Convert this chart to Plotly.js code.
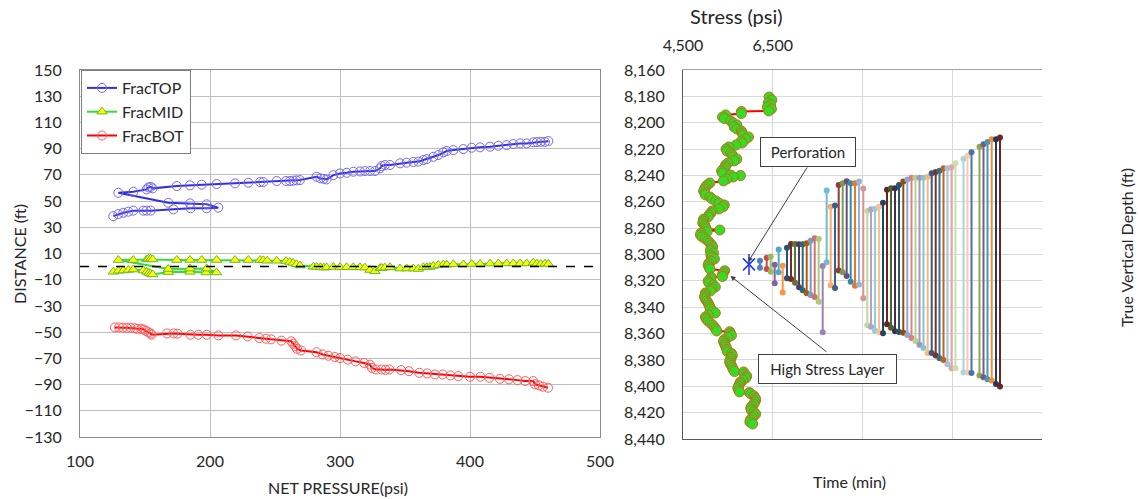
<!DOCTYPE html>
<html>
<head>
<meta charset="utf-8">
<script src="https://cdn.plot.ly/plotly-3.0.1.min.js"></script>
<style>
  html, body { margin: 0; padding: 0; background: #ffffff; }
  #chart { width: 1139px; height: 499px; }
</style>
</head>
<body>
<div id="chart"></div>
<script>
// ---------- Left panel: fracture tip distance vs net pressure ----------
const topPressure = [125.6, 129.5, 133.3, 137.2, 141.0, 148.7, 151.3, 154.4, 171.8, 185.1, 197.4, 206.4,
  197.4, 184.6, 167.9,
  129.5, 141.0, 151.3, 152.6, 154.4, 155.9, 174.4, 184.6, 193.6, 205.1, 219.2, 229.5, 238.5, 241.0, 251.3,
  258.5, 261.5, 264.0, 266.5, 269.2, 282.0, 285.0, 287.5, 289.7, 294.9, 300.0, 305.1, 310.3, 315.4, 319.2,
  323.1, 326.9, 330.8, 332.0, 334.6, 338.5, 346.2, 351.3, 356.4, 360.2, 364.1, 366.7, 371.8, 375.6, 379.5,
  382.1, 387.2, 394.9, 401.3, 407.7, 415.4, 421.8, 428.2, 433.3, 438.5, 443.6, 448.7, 451.5, 454.5, 457.7, 460.3];
const topDistance = [38.5, 40.1, 41.1, 41.9, 42.7, 42.7, 42.7, 42.7, 43.7, 44.5, 44.5, 45.0,
  47.5, 48.2, 48.7,
  56.3, 57.1, 58.9, 60.4, 60.9, 59.7, 61.5, 62.0, 62.5, 63.0, 63.5, 64.0, 64.5, 64.5, 65.3,
  65.3, 65.3, 65.6, 65.8, 66.0, 68.5, 67.3, 67.0, 66.5, 69.8, 71.1, 71.6, 72.4, 72.6, 72.9,
  72.9, 72.9, 75.0, 76.7, 77.5, 77.5, 78.8, 79.3, 79.8, 80.1, 81.3, 82.0, 83.8, 85.1, 87.2,
  88.2, 88.9, 89.7, 90.7, 91.0, 91.5, 92.2, 92.7, 93.5, 94.0, 94.0, 94.8, 95.0, 95.2, 95.2, 95.8];

const midPressure = [125.6, 129.5, 133.3, 137.2, 141.0, 148.7, 151.3, 153.0, 154.4, 155.9, 168.0, 184.6, 197.0, 205.0,
  197.4, 184.6, 167.9,
  129.5, 141.0, 151.3, 152.6, 154.4, 155.9, 174.4, 184.6, 193.6, 205.1, 219.2, 229.5, 238.5, 241.0, 244.0, 251.3,
  258.5, 261.5, 264.0, 266.5, 269.2, 279.5, 282.0, 285.0, 287.5, 289.7, 294.9, 300.0, 305.1, 310.3, 315.4,
  319.2, 323.1, 326.9, 330.8, 332.0, 334.6, 338.5, 346.2, 351.3, 356.4, 360.2, 364.1, 366.7, 369.0, 371.8,
  375.6, 379.5, 382.1, 387.2, 394.9, 401.3, 407.7, 415.4, 421.8, 428.2, 433.3, 438.5, 443.6, 448.7, 451.5,
  454.5, 457.7, 460.3];
const midDistance = [-4.0, -3.2, -3.0, -2.6, -2.2, -3.0, -4.0, -4.8, -5.5, -6.0, -4.2, -4.0, -4.5, -4.5,
  -1.5, -1.5, -1.8,
  5.0, 5.0, 5.5, 6.0, 6.0, 5.5, 5.0, 5.0, 5.0, 5.0, 5.0, 5.0, 5.0, 4.8, 4.5, 4.5,
  4.2, 3.5, 2.8, 1.8, 0.8, -0.1, -0.3, -0.5, -0.8, -0.6, -0.3, -0.5, -0.5, -0.5, -0.6,
  -0.8, -2.6, -3.6, -1.2, -1.0, -0.8, -0.5, -1.5, -1.5, -1.5, -1.8, -0.5, -0.5, -0.3, 0.5,
  1.2, 1.6, 1.4, 1.8, 1.6, 1.9, 2.0, 2.3, 2.4, 2.4, 2.4, 2.4, 2.4, 3.0, 2.2,
  2.0, 2.2, 2.0];

const botPressure = [126.9, 130, 133, 136, 139, 142, 144, 147, 149, 150.5, 152.6, 154.4, 155, 167, 172, 175,
  185, 191, 197.5, 206.5, 220, 229, 238, 243, 247, 255, 262.5, 264, 265.5, 267, 270, 282, 286.7, 291, 296,
  300, 306, 312, 318.5, 323, 324.5, 327.5, 332, 335, 338, 347, 353, 361, 367, 373, 379, 385, 391, 400, 408,
  415, 423, 430, 436.5, 442.5, 448.6, 450, 453, 456, 460];
const botDistance = [-46.4, -46.4, -46.6, -46.8, -46.8, -47, -47.5, -47.5, -48, -49, -50, -51, -52, -51, -51, -51.2,
  -52, -52, -52, -52.5, -52.5, -53.3, -54.5, -55, -55.5, -56.5, -57, -58.8, -60.8, -62.8, -64, -65.3, -67, -68, -69,
  -69.8, -71, -72.3, -73.5, -74.8, -77.3, -78.5, -78.5, -78.8, -78.5, -79, -79.8, -81, -81.5, -82.3, -82.3, -83, -83.5, -84, -84,
  -84.8, -85.6, -86, -86.6, -87.3, -87.3, -89.8, -90.6, -91.6, -92.4];

const pressureTicks = [100, 200, 300, 400, 500];

// ---------- Right panel: stress profile and fracture height growth ----------
const profileDepth = [8180.5, 8182.8, 8185.0, 8186.6, 8188.1, 8189.6, 8191.1, 8191.5, 8193.0, 8194.1,
  8195.7, 8196.8, 8198.7, 8200.2, 8201.7, 8203.2, 8204.8, 8206.3, 8207.8, 8209.3,
  8210.8, 8212.4, 8213.9, 8215.4, 8216.9, 8218.4, 8219.9, 8221.5, 8223.0, 8224.5,
  8226.0, 8227.5, 8229.0, 8230.6, 8232.1, 8233.6, 8235.1, 8236.6, 8238.1, 8239.7,
  8240.1, 8241.2, 8242.7, 8244.2, 8245.7, 8247.3, 8248.8, 8250.3, 8251.8, 8253.3,
  8254.8, 8256.4, 8257.9, 8259.4, 8260.9, 8262.4, 8263.9, 8265.5, 8267.0, 8268.5,
  8270.0, 8271.5, 8273.1, 8274.6, 8276.1, 8277.6, 8279.1, 8280.6, 8281.4, 8282.5,
  8283.7, 8285.2, 8286.7, 8288.2, 8289.7, 8291.3, 8292.8, 8294.3, 8295.8, 8297.3,
  8298.8, 8300.4, 8301.9, 8303.4, 8304.9, 8306.4, 8308.0, 8309.5, 8311.0, 8312.3,
  8313.6, 8315.2, 8316.7, 8317.1, 8318.6, 8320.1, 8321.6, 8323.1, 8324.7, 8326.2,
  8327.7, 8329.2, 8330.7, 8332.2, 8333.8, 8335.3, 8336.8, 8338.3, 8339.8, 8341.3,
  8342.9, 8344.4, 8345.9, 8347.4, 8348.9, 8350.4, 8352.0, 8353.5, 8355.0, 8356.5,
  8358.0, 8358.6, 8359.9, 8361.4, 8362.9, 8364.5, 8366.0, 8367.5, 8369.0, 8370.5,
  8372.0, 8373.6, 8375.1, 8376.6, 8378.1, 8379.7, 8381.2, 8382.7, 8384.2, 8385.7,
  8387.3, 8388.8, 8389.1, 8390.7, 8392.2, 8393.7, 8395.2, 8396.7, 8398.2, 8399.8,
  8401.3, 8402.8, 8404.3, 8404.8, 8405.8, 8407.3, 8408.9, 8410.4, 8411.9, 8413.4,
  8414.9, 8416.4, 8418.0, 8419.5, 8421.0, 8422.5, 8424.0, 8425.6, 8427.1, 8428.6];
const profileStress = [6420, 6480, 6400, 6450, 6380, 6470, 6410, 5800, 5800, 5450,
  5380, 5420, 5560, 5620, 5700, 5640, 5700, 5800, 5820, 5840,
  5960, 5900, 5800, 5820, 5680, 5520, 5460, 5480, 5560, 5600,
  5620, 5700, 5640, 5500, 5450, 5440, 5400, 5360, 5380, 5560,
  5780, 5620, 5480, 5400, 5100, 5040, 5000, 4980, 4960, 4990,
  5000, 5100, 5150, 5230, 5300, 5420, 5390, 5300, 5150, 5120,
  5080, 5060, 4960, 4950, 4940, 4980, 5000, 5020, 5320, 5040,
  4900, 4890, 4930, 5000, 5060, 5100, 5140, 5160, 5120, 5110,
  5180, 5120, 5150, 5200, 5130, 5080, 5060, 5080, 5100, 5430,
  5400, 5380, 5380, 5130, 5120, 5060, 5080, 5180, 5220, 5150,
  5110, 5000, 4990, 4980, 5000, 5030, 5060, 5080, 5100, 5110,
  5160, 5220, 5060, 5000, 5020, 5060, 5110, 5160, 5200, 5230,
  5250, 5540, 5560, 5580, 5500, 5420, 5400, 5430, 5440, 5460,
  5480, 5490, 5580, 5600, 5570, 5560, 5540, 5550, 5580, 5600,
  5620, 5650, 5850, 5870, 5920, 5900, 5840, 5780, 5760, 5740,
  5720, 5740, 5760, 5980, 6010, 6080, 6110, 6120, 6100, 6080,
  6040, 6010, 6020, 6080, 6120, 6080, 6040, 6000, 5990, 6050];

const stressTicks = [4500, 6500, 8500, 10500, 12500];
const stressTickText = ['4,500', '6,500', '', '', ''];

// fracture top / bottom at each time step
const stemTime = [77, 83.7, 87.7, 91.7, 95.7, 99.7, 104, 108, 112, 116, 119.7, 123.7, 127.7, 131.7, 135.7,
  139.7, 143.7, 147.7, 152, 155.7, 159.7, 163.7, 167.7, 172, 176, 180.3, 184.3, 188, 192, 196,
  200, 204, 208, 212, 216, 220.3, 224.3, 228.5, 232.5, 236.5, 240.5, 244.7, 248.7, 252.7, 256.5,
  260.5, 264.5, 268.5, 272.5, 280.5, 284.5, 288.5, 296.5, 300.5, 304.5, 308.7, 313, 317];
const stemTop = [8304.7, 8302.4, 8301.6, 8307.7, 8296.3, 8308.5, 8294.8, 8292.0, 8292.0, 8292.2, 8292.2, 8291.5,
  8289.5, 8287.7, 8288.2, 8308.7, 8251.5, 8263.7, 8262.9, 8247.3, 8246.0, 8244.5, 8246.0, 8246.0, 8244.7,
  8250.0, 8267.0, 8265.7, 8265.2, 8263.7, 8260.7, 8250.8, 8249.8, 8249.8, 8247.3, 8244.7, 8243.0, 8241.7,
  8241.7, 8241.7, 8241.7, 8241.0, 8238.4, 8237.4, 8236.4, 8234.6, 8234.6, 8233.8, 8230.8, 8227.5, 8225.0,
  8222.5, 8218.2, 8216.4, 8214.6, 8212.6, 8212.6, 8211.3];
const stemBottom = [8310.0, 8311.0, 8313.0, 8321.9, 8313.5, 8328.9, 8318.0, 8318.6, 8321.4, 8324.9, 8327.2, 8329.4,
  8330.7, 8332.2, 8335.8, 8359.0, 8305.9, 8323.4, 8325.4, 8312.2, 8313.5, 8316.3, 8320.6, 8323.7, 8322.7,
  8333.2, 8353.7, 8354.8, 8357.8, 8359.0, 8359.8, 8353.0, 8355.5, 8358.3, 8358.8, 8359.3, 8361.0, 8363.3,
  8365.6, 8368.4, 8370.9, 8374.7, 8374.7, 8376.7, 8378.8, 8380.0, 8383.3, 8386.3, 8386.3, 8389.6, 8389.6,
  8390.0, 8391.9, 8393.1, 8394.7, 8395.7, 8398.2, 8400.2];

const perforationTime = [66];
const perforationDepth = [8307.5];

// series colours for the time-step stems
const stemColors = ['#4F81BD', '#C0504D', '#9BBB59', '#8064A2', '#4BACC6', '#F79646',
  '#2C4D75', '#772C2A', '#5F7530', '#4D3B62', '#276A7C', '#B65708',
  '#729ACA', '#CD7371', '#AFC97A', '#9983B5', '#6FBDD1', '#F9AB6B',
  '#3A5F8B', '#8F3C3A', '#7F9A48', '#664F83', '#358CA3', '#E27A2E',
  '#95B3D7', '#D99694', '#C3D69B', '#B3A2C7', '#93CDDD', '#FAC090',
  '#254061', '#632523', '#4F6228', '#3F3151', '#215968', '#984807',
  '#8CAAD6', '#D38482', '#B9D08C', '#A693BE', '#81C5D8', '#F9B67D',
  '#335A85', '#7F302E', '#2E7488', '#C16320',
  '#A7C0DE', '#DFA7A6', '#CDDDAC', '#A5D5E2', '#FBCAA2',
  '#4774AA', '#8BA850', '#735A92', '#439BB2', '#F08C3A', '#1F3A5C', '#6B2523'];

// ---------- build ----------
const W = 1139, H = 499;
const px = v => v / W;
const py = v => 1 - v / H;
const FONT = 'Lato, "Open Sans", sans-serif';
const TXT = '#262626';

const traces = [
  {
    name: 'FracTOP', x: topPressure, y: topDistance, xaxis: 'x', yaxis: 'y',
    mode: 'lines+markers', type: 'scatter',
    line: { color: '#3030E0', width: 2 },
    marker: { symbol: 'circle-open', size: 9, color: '#7468F0', line: { width: 1 } }
  },
  {
    name: 'FracMID', x: midPressure, y: midDistance, xaxis: 'x', yaxis: 'y',
    mode: 'lines+markers', type: 'scatter',
    line: { color: '#33DD33', width: 2 },
    marker: { symbol: 'triangle-up', size: 9, color: '#FFFF00', line: { color: '#66B833', width: 1 } }
  },
  {
    name: 'FracBOT', x: botPressure, y: botDistance, xaxis: 'x', yaxis: 'y',
    mode: 'lines+markers', type: 'scatter',
    line: { color: '#FF0000', width: 2 },
    marker: { symbol: 'circle-open', size: 9, color: '#FF5A5A', line: { width: 1 } }
  },
  {
    name: 'Stress', x: profileStress, y: profileDepth, xaxis: 'x2', yaxis: 'y2',
    mode: 'lines+markers', type: 'scatter', showlegend: false,
    line: { color: '#FF0000', width: 2 },
    marker: { symbol: 'circle', size: 10, color: '#33DD22', line: { color: '#B8741E', width: 1 } }
  }
];

for (let i = 0; i < stemTime.length; i++) {
  traces.push({
    x: [stemTime[i], stemTime[i]], y: [stemTop[i], stemBottom[i]],
    xaxis: 'x3', yaxis: 'y2', type: 'scatter', mode: 'lines+markers', showlegend: false,
    line: { color: stemColors[i % stemColors.length], width: 2 },
    marker: { size: 6, color: stemColors[i % stemColors.length] }
  });
}

// perforation: an asterisk built from an x and a vertical stroke
traces.push({
  x: perforationTime, y: perforationDepth, xaxis: 'x3', yaxis: 'y2', type: 'scatter', mode: 'markers',
  showlegend: false, marker: { symbol: 'x-thin-open', size: 12, color: '#2233EE', line: { width: 1.5, color: '#2233EE' } }
});
traces.push({
  x: perforationTime, y: perforationDepth, xaxis: 'x3', yaxis: 'y2', type: 'scatter', mode: 'markers',
  showlegend: false, marker: { symbol: 'line-ns-open', size: 15, color: '#2233EE', line: { width: 1.5, color: '#2233EE' } }
});

const tickFont = { family: FONT, size: 16, color: TXT };

function label(text, x, y, size, angle) {
  return {
    text: text, xref: 'paper', yref: 'paper', x: px(x), y: py(y),
    xanchor: 'center', yanchor: 'middle', showarrow: false,
    textangle: angle || 0, font: { family: FONT, size: size, color: TXT }
  };
}

const layout = {
  width: W, height: H,
  margin: { l: 0, r: 0, t: 0, b: 0 },
  paper_bgcolor: '#ffffff', plot_bgcolor: '#ffffff',
  font: { family: FONT, color: TXT },
  showlegend: true,
  legend: {
    x: px(81), y: py(70), xanchor: 'left', yanchor: 'top',
    bgcolor: '#ffffff', bordercolor: '#7f7f7f', borderwidth: 1,
    font: { family: FONT, size: 16, color: TXT }, itemwidth: 30, tracegroupgap: 0
  },
  xaxis: {
    domain: [px(80), px(600)], anchor: 'y', range: [100, 500], tickvals: pressureTicks,
    showgrid: true, gridcolor: '#bfbfbf', gridwidth: 1, zeroline: false,
    showline: true, mirror: true, linecolor: '#8c8c8c', linewidth: 1,
    ticks: '', tickfont: tickFont, ticklabelstandoff: 10, fixedrange: true
  },
  yaxis: {
    domain: [py(437), py(70)], anchor: 'x', range: [-130, 150], tick0: 10, dtick: 20,
    showgrid: true, gridcolor: '#bfbfbf', gridwidth: 1, zeroline: false,
    showline: true, mirror: true, linecolor: '#8c8c8c', linewidth: 1,
    ticks: '', tickfont: tickFont, ticklabelstandoff: 14, fixedrange: true
  },
  xaxis2: {
    domain: [px(683), px(1042)], anchor: 'y2', side: 'top', range: [4500, 12500],
    tickvals: stressTicks, ticktext: stressTickText,
    showgrid: true, gridcolor: '#d9d9d9', zeroline: false,
    showline: true, linecolor: '#a6a6a6', linewidth: 1,
    ticks: '', tickfont: tickFont, ticklabelstandoff: 12, fixedrange: true
  },
  xaxis3: {
    overlaying: 'x2', anchor: 'y2', side: 'bottom', range: [0, 359],
    showticklabels: false, showgrid: false, zeroline: false,
    showline: true, linecolor: '#595959', linewidth: 1, ticks: '', fixedrange: true
  },
  yaxis2: {
    domain: [py(439), py(70)], anchor: 'x2', range: [8440, 8160], tick0: 8160, dtick: 20, tickformat: ',d',
    showgrid: true, gridcolor: '#d9d9d9', zeroline: false,
    showline: true, linecolor: '#595959', linewidth: 1,
    ticks: '', tickfont: tickFont, ticklabelstandoff: 14, fixedrange: true
  },
  yaxis3: {
    overlaying: 'y2', anchor: 'x2', side: 'right', range: [8440, 8160], tick0: 8160, dtick: 20, tickformat: ',d',
    showgrid: false, zeroline: false,
    showline: true, linecolor: '#595959', linewidth: 1,
    ticks: 'outside', ticklen: 5, tickcolor: '#595959',
    tickfont: tickFont, ticklabelstandoff: 8, fixedrange: true
  },
  shapes: [
    { type: 'line', xref: 'x', yref: 'y', x0: 100, x1: 500, y0: 0, y1: 0,
      line: { color: '#000000', width: 1.5, dash: 'dash' } }
  ],
  annotations: [
    label('DISTANCE (ft)', 20, 254, 16, -90),
    label('NET PRESSURE(psi)', 338, 487, 16),
    label('Stress (psi)', 736, 16, 20),
    label('Time (min)', 849, 481, 16),
    label('True Vertical Depth (ft)', 1126, 248, 16, -90),
    // callout arrows
    { text: '', xref: 'x3', yref: 'y2', x: 65, y: 8305.7, ax: 60, ay: -96, showarrow: true,
      arrowhead: 2, arrowsize: 1, arrowwidth: 1, arrowcolor: '#404040' },
    { text: '', xref: 'x3', yref: 'y2', x: 47.5, y: 8316.3, ax: 97.5, ay: 77, showarrow: true,
      arrowhead: 2, arrowsize: 1, arrowwidth: 1, arrowcolor: '#404040' },
    // callout boxes
    { text: 'Perforation', xref: 'x3', yref: 'y2', x: 125, y: 8222.2, showarrow: false,
      bgcolor: '#ffffff', bordercolor: '#404040', borderwidth: 1, borderpad: 3, width: 88, height: 22,
      font: { family: FONT, size: 15, color: TXT } },
    { text: 'High Stress Layer', xref: 'x3', yref: 'y2', x: 144.5, y: 8386.9, showarrow: false,
      bgcolor: '#ffffff', bordercolor: '#404040', borderwidth: 1, borderpad: 3, width: 131, height: 22,
      font: { family: FONT, size: 15, color: TXT } }
  ]
};

Plotly.newPlot('chart', traces, layout, { staticPlot: true, displayModeBar: false });
</script>
</body>
</html>
